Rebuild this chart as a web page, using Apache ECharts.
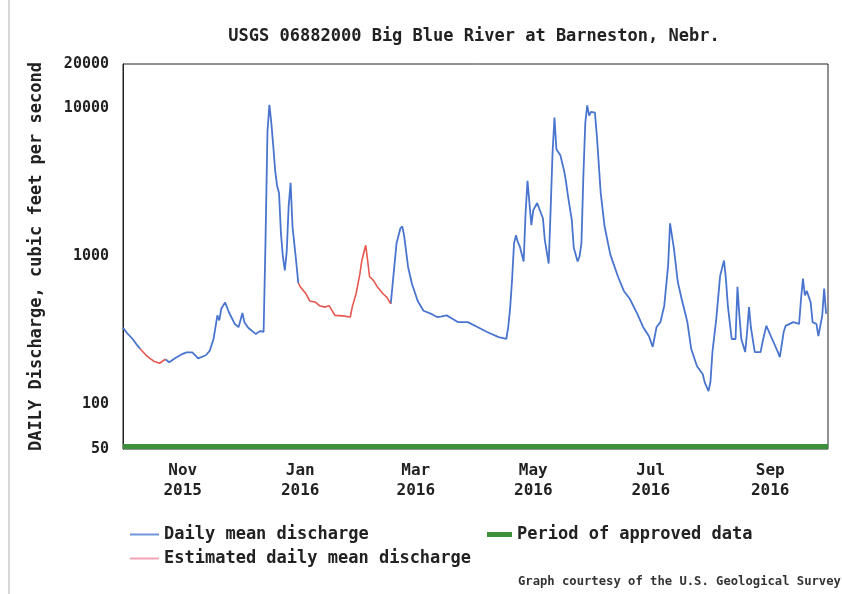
<!DOCTYPE html>
<html>
<head>
<meta charset="utf-8">
<script src="https://cdn.jsdelivr.net/npm/echarts@6/dist/echarts.min.js"></script>
<style>
  html, body { margin: 0; padding: 0; background: #fff; }
  #chart { width: 842px; height: 594px; }
</style>
</head>
<body>
<div id="chart"></div>
<script>
// Big Blue River at Barneston, Nebr. - daily mean discharge, water year 2016 (cfs)

// Daily mean discharge (approved). A null flow breaks the line where estimated values take over.
const meanDates = [
  '2015-10-01','2015-10-03','2015-10-06','2015-10-08','2015-10-10',
  '2015-10-15',
  '2015-10-23','2015-10-25','2015-10-28','2015-11-01','2015-11-03','2015-11-06','2015-11-09',
  '2015-11-13','2015-11-15','2015-11-17','2015-11-19','2015-11-20','2015-11-21','2015-11-23',
  '2015-11-25','2015-11-28','2015-11-30','2015-12-02','2015-12-03','2015-12-05','2015-12-09',
  '2015-12-11','2015-12-13','2015-12-14','2015-12-15','2015-12-16','2015-12-17','2015-12-18',
  '2015-12-19','2015-12-20','2015-12-21','2015-12-22','2015-12-23','2015-12-24','2015-12-25',
  '2015-12-26','2015-12-27','2015-12-28','2015-12-29','2015-12-30','2015-12-31',
  '2016-01-15',
  '2016-02-17','2016-02-18','2016-02-20','2016-02-22','2016-02-23','2016-02-24','2016-02-26',
  '2016-02-28','2016-03-02','2016-03-05','2016-03-09','2016-03-12','2016-03-14','2016-03-17',
  '2016-03-20','2016-03-23','2016-03-28','2016-04-02','2016-04-07','2016-04-13','2016-04-17',
  '2016-04-18','2016-04-19','2016-04-20','2016-04-21','2016-04-22','2016-04-23','2016-04-24',
  '2016-04-26','2016-04-27','2016-04-28','2016-04-29','2016-04-30','2016-05-01','2016-05-03',
  '2016-05-04','2016-05-06','2016-05-07','2016-05-09','2016-05-10','2016-05-11','2016-05-12',
  '2016-05-13','2016-05-15','2016-05-17','2016-05-18','2016-05-19','2016-05-21','2016-05-22',
  '2016-05-24','2016-05-25','2016-05-26','2016-05-27','2016-05-28','2016-05-29','2016-05-30',
  '2016-05-31','2016-06-01','2016-06-02','2016-06-03','2016-06-05','2016-06-07','2016-06-10',
  '2016-06-14','2016-06-17','2016-06-20','2016-06-24','2016-06-27','2016-06-30','2016-07-02',
  '2016-07-04','2016-07-06','2016-07-08','2016-07-10','2016-07-11','2016-07-13','2016-07-15',
  '2016-07-17','2016-07-20','2016-07-22','2016-07-25','2016-07-28','2016-07-29','2016-07-31',
  '2016-08-01','2016-08-02','2016-08-04','2016-08-06','2016-08-08','2016-08-09','2016-08-10',
  '2016-08-12','2016-08-14','2016-08-15','2016-08-16','2016-08-17','2016-08-19','2016-08-20',
  '2016-08-21','2016-08-22','2016-08-24','2016-08-27','2016-08-28','2016-08-30','2016-09-02',
  '2016-09-05','2016-09-06','2016-09-08','2016-09-09','2016-09-10','2016-09-13','2016-09-16',
  '2016-09-17','2016-09-18','2016-09-19','2016-09-20','2016-09-22','2016-09-23','2016-09-25',
  '2016-09-26','2016-09-28','2016-09-29','2016-09-30'
];
const meanFlows = [
  330, 305, 277, 255, 237,
  null,
  202, 193, 205, 220, 225, 225, 205,
  215, 230, 277, 400, 370, 443, 490,
  420, 350, 333, 415, 360, 330, 299,
  313, 310, 1300, 7000, 10600, 8000, 5600,
  3800, 3000, 2690, 1433, 1000, 805, 1080,
  2180, 3150, 1600, 1200, 900, 660,
  null,
  479, 655, 1225, 1550, 1600, 1370, 850,
  655, 500, 430, 410, 390, 392, 400,
  380, 360, 360, 334, 309, 285, 277,
  334, 450, 700, 1225, 1390, 1250, 1170,
  925, 1960, 3250, 2300, 1630, 2060, 2300,
  2250, 1814, 1290, 896, 2060, 5000, 8680,
  5300, 4850, 3800, 3200, 2570, 1760, 1150,
  925, 1000, 1225, 3500, 8000, 10500, 8950,
  9500, 9800, 9380, 6550, 2690, 1600, 1030,
  730, 585, 520, 410, 334, 290, 245,
  334, 360, 465, 870, 1676, 1133, 675,
  518, 360, 237, 181, 160, 141, 123,
  143, 226, 379, 740, 940, 708, 465,
  277, 277, 625, 400, 277, 226, 309,
  455, 330, 226, 226, 264, 340, 277,
  226, 209, 309, 340, 350, 360, 350,
  518, 708, 545, 585, 490, 360, 350,
  290, 397, 606, 410
];

// Estimated daily mean discharge
const estDates = [
  '2015-10-10','2015-10-13','2015-10-15','2015-10-17','2015-10-20','2015-10-23',
  '2015-11-15',
  '2015-12-31','2016-01-01','2016-01-04','2016-01-06','2016-01-09','2016-01-11','2016-01-14',
  '2016-01-16','2016-01-19','2016-01-23','2016-01-27','2016-01-28','2016-01-30','2016-02-01',
  '2016-02-02','2016-02-04','2016-02-05','2016-02-06','2016-02-08','2016-02-09','2016-02-10',
  '2016-02-13','2016-02-15','2016-02-17'
];
const estFlows = [
  237, 215, 205, 196, 190, 202,
  null,
  660, 625, 560, 500, 490, 465, 455,
  465, 400, 397, 390, 455, 560, 766,
  940, 1190, 940, 730, 690, 675, 625,
  560, 530, 479
];

// Period of approved data (drawn as a band along the bottom of the plot)
const approvedDates = ['2015-10-01', '2016-10-01'];
const approvedLevel = [52, 52];

// Axis ticks
const monthTicks = ['2015-11-01', '2016-01-01', '2016-03-01', '2016-05-01', '2016-07-01', '2016-09-01'];
const monthNames = ['Jan','Feb','Mar','Apr','May','Jun','Jul','Aug','Sep','Oct','Nov','Dec'];
const flowTicks = [50, 100, 1000, 10000, 20000];

const FONT = '"DejaVu Sans Mono", "Liberation Mono", monospace';

function toTime(s) {
  const p = s.split('-').map(Number);
  return new Date(p[0], p[1] - 1, p[2]).getTime();
}
function pairs(dates, values) {
  return dates.map((d, i) => [toTime(d), values[i] == null ? null : values[i]]);
}

const chart = echarts.init(document.getElementById('chart'), null, { renderer: 'canvas' });

chart.setOption({
  backgroundColor: '#ffffff',
  animation: false,
  title: {
    text: 'USGS 06882000 Big Blue River at Barneston, Nebr.',
    left: 474,
    textAlign: 'center',
    top: 28,
    padding: 0,
    textStyle: { fontFamily: FONT, fontSize: 17, fontWeight: 'bold', color: '#222' }
  },
  grid: {
    left: 123, right: 14, top: 64, bottom: 145,
    show: true, borderColor: '#222', borderWidth: 1, backgroundColor: 'transparent'
  },
  legend: [
    {
      orient: 'vertical',
      left: 130, top: 526,
      padding: 0,
      itemWidth: 29, itemHeight: 2, itemGap: 7,
      icon: 'rect',
      textStyle: { fontFamily: FONT, fontSize: 17, fontWeight: 'bold', color: '#222', lineHeight: 17 },
      data: [
        { name: 'Daily mean discharge', itemStyle: { color: '#6f95d8' } },
        { name: 'Estimated daily mean discharge', itemStyle: { color: '#f3a3b6' } }
      ]
    },
    {
      orient: 'vertical',
      left: 487, top: 526,
      padding: 0,
      itemWidth: 25, itemHeight: 5,
      icon: 'rect',
      textStyle: { fontFamily: FONT, fontSize: 17, fontWeight: 'bold', color: '#222', lineHeight: 17 },
      data: [{ name: 'Period of approved data', itemStyle: { color: '#3d8f3a' } }]
    }
  ],
  xAxis: {
    type: 'value',
    min: toTime('2015-10-01'),
    max: toTime('2016-10-01'),
    axisLine: { show: false },
    axisTick: { show: false },
    splitLine: { show: false },
    axisLabel: {
      customValues: monthTicks.map(toTime),
      margin: 12,
      fontFamily: FONT, fontSize: 16, fontWeight: 'bold', color: '#222', lineHeight: 20,
      formatter: function (v) {
        const d = new Date(v);
        return monthNames[d.getMonth()] + '\n' + d.getFullYear();
      }
    }
  },
  yAxis: {
    type: 'log',
    logBase: 10,
    min: 50,
    max: 20000,
    name: 'DAILY Discharge, cubic feet per second',
    nameLocation: 'middle',
    nameGap: 78,
    nameRotate: 90,
    nameTextStyle: { fontFamily: FONT, fontSize: 17, fontWeight: 'bold', color: '#222' },
    axisLine: { show: true, lineStyle: { color: '#222', width: 1 } },
    axisTick: { show: false },
    splitLine: { show: false },
    axisLabel: {
      customValues: flowTicks,
      margin: 14,
      fontFamily: FONT, fontSize: 15, fontWeight: 'bold', color: '#222',
      formatter: function (v) { return String(Math.round(v)); }
    }
  },
  series: [
    {
      name: 'Period of approved data',
      type: 'line',
      data: pairs(approvedDates, approvedLevel),
      symbol: 'none',
      lineStyle: { color: '#3d8f3a', width: 5 },
      itemStyle: { color: '#3d8f3a' },
      z: 1,
      silent: true
    },
    {
      name: 'Daily mean discharge',
      type: 'line',
      data: pairs(meanDates, meanFlows),
      symbol: 'none',
      connectNulls: false,
      lineStyle: { color: '#4a75cf', width: 1.8 },
      itemStyle: { color: '#4a75cf' },
      z: 3
    },
    {
      name: 'Estimated daily mean discharge',
      type: 'line',
      data: pairs(estDates, estFlows),
      symbol: 'none',
      connectNulls: false,
      lineStyle: { color: '#e5574f', width: 1.6 },
      itemStyle: { color: '#e5574f' },
      z: 4
    }
  ],
  graphic: [
    {
      type: 'line',
      shape: { x1: 9, y1: 0, x2: 9, y2: 594 },
      style: { stroke: '#b0b0b0', lineWidth: 1 },
      silent: true
    },
    {
      type: 'text',
      left: 518, top: 576,
      style: {
        text: 'Graph courtesy of the U.S. Geological Survey',
        font: 'bold 12.2px ' + FONT,
        fill: '#333'
      },
      silent: true
    }
  ]
});
</script>
</body>
</html>
